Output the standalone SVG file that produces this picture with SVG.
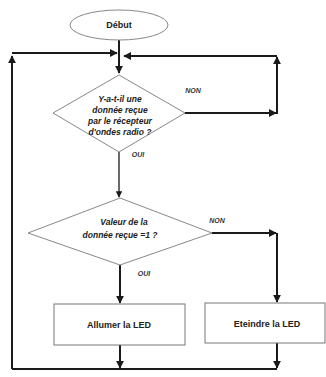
<svg xmlns="http://www.w3.org/2000/svg" width="326" height="377" viewBox="0 0 326 377">
<style>
.shape{fill:#fff;stroke:#888;stroke-width:1}
.box{fill:#fff;stroke:#777;stroke-width:1}
.ln{fill:none;stroke:#1a1a1a;stroke-width:2}
.t{font-family:"Liberation Sans",Arial,sans-serif;font-weight:bold;font-size:9px;fill:#222;text-anchor:middle}
.ti{font-family:"Liberation Sans",Arial,sans-serif;font-weight:bold;font-style:italic;font-size:8.5px;fill:#222;text-anchor:middle}
.lab{font-family:"Liberation Sans",Arial,sans-serif;font-weight:bold;font-style:italic;font-size:7px;fill:#333;text-anchor:middle}
</style>
<defs>
<marker id="ah" viewBox="0 0 10 10" refX="9" refY="5" markerWidth="4" markerHeight="4" orient="auto" markerUnits="strokeWidth">
<path d="M0,0 L10,5 L0,10 z" fill="#1a1a1a"/>
</marker>
</defs>
<rect width="326" height="377" fill="#fff"/>
<g id="connectors">
<path class="ln" d="M119,40 V73" marker-end="url(#ah)"/>
<path class="ln" d="M12,369 V56" marker-end="url(#ah)"/>
<path class="ln" d="M12,53 H117" marker-end="url(#ah)"/>
<path class="ln" d="M185,113 H276" marker-end="url(#ah)"/>
<path class="ln" d="M277,114 V57" marker-end="url(#ah)"/>
<path class="ln" d="M277,56 H124" marker-end="url(#ah)"/>
<path class="ln" d="M119,152 V197" marker-end="url(#ah)" style="stroke:#444;stroke-width:1.6"/>
<path class="ln" d="M212,233 H276" marker-end="url(#ah)"/>
<path class="ln" d="M277,233 V302" marker-end="url(#ah)"/>
<path class="ln" d="M120,265 V303" marker-end="url(#ah)"/>
<path class="ln" d="M120,345 V368" marker-end="url(#ah)"/>
<path class="ln" d="M277,343 V368" marker-end="url(#ah)"/>
<path class="ln" d="M277,369 H12"/>
<text class="lab" x="193" y="93">NON</text>
<text class="lab" x="138" y="157">OUI</text>
<text class="lab" x="217" y="223">NON</text>
<text class="lab" x="144" y="276">OUI</text>
</g>
<g id="debut">
<ellipse class="shape" cx="119" cy="25" rx="49" ry="15"/>
<text class="t" x="119" y="28">Début</text>
</g>
<g id="decision1">
<polygon class="shape" points="119,75 185,113 119,152 53,113"/>
<text class="ti" x="120" y="102">Y-a-t-il une</text>
<text class="ti" x="120" y="113">donnée reçue</text>
<text class="ti" x="120" y="124">par le récepteur</text>
<text class="ti" x="120" y="135">d'ondes radio ?</text>
</g>
<g id="decision2">
<polygon class="shape" points="120,198 212,233 120,265 28,233"/>
<text class="ti" x="124" y="225">Valeur de la</text>
<text class="ti" x="120" y="238">donnée reçue =1  ?</text>
</g>
<g id="allumer">
<rect class="box" x="54" y="304" width="131" height="41"/>
<text class="t" x="119" y="328">Allumer la LED</text>
</g>
<g id="eteindre">
<rect class="box" x="205" y="303" width="120" height="40"/>
<text class="t" x="267" y="327">Eteindre la LED</text>
</g>
</svg>
